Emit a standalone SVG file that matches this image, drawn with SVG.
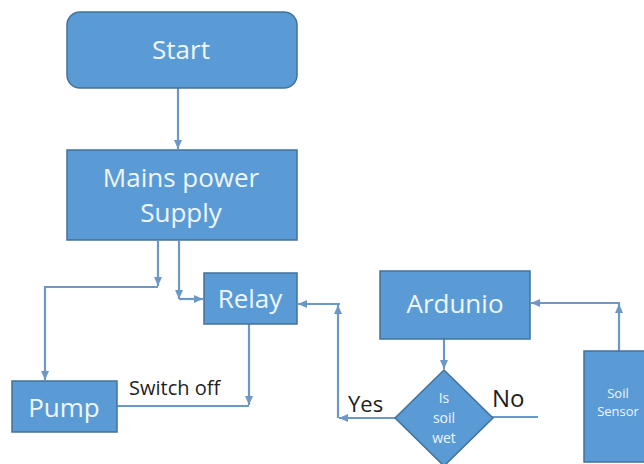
<svg xmlns="http://www.w3.org/2000/svg" width="644" height="464" viewBox="0 0 644 464">
<defs>
<style>
.box{fill:#5b9bd5;stroke:#41719c;stroke-width:1.5}
.lbl{font-family:"Open Sans","Liberation Sans",sans-serif;fill:#eef6ff;text-anchor:middle}
.ext{font-family:"Open Sans","Liberation Sans",sans-serif;fill:#1e1e1e}
.con{fill:none;stroke:#6b98c6;stroke-width:2.2}
</style>
<marker id="ah" markerUnits="userSpaceOnUse" markerWidth="9" markerHeight="8" refX="9" refY="4" orient="auto">
<path d="M0,0 L9,4 L0,8 z" fill="#6b98c6"/>
</marker>
</defs>
<rect width="644" height="464" fill="#ffffff"/>
<g id="connectors">
<path class="con" d="M178,88 V149" marker-end="url(#ah)"/>
<path class="con" d="M158,241 V286" marker-end="url(#ah)"/>
<path class="con" d="M158,287 H45 V380" marker-end="url(#ah)"/>
<path class="con" d="M179,241 V299" marker-end="url(#ah)"/>
<path class="con" d="M179,299 H203" marker-end="url(#ah)"/>
<path class="con" d="M249,324 V405" marker-end="url(#ah)"/>
<path class="con" d="M249,406 H117"/>
<path class="con" d="M395,418 H339" marker-end="url(#ah)"/>
<path class="con" d="M338,418 V305" marker-end="url(#ah)"/>
<path class="con" d="M340,304 H298" marker-end="url(#ah)"/>
<path class="con" d="M444,339 V369" marker-end="url(#ah)"/>
<path class="con" d="M492,417 H538"/>
<path class="con" d="M619,351 V304" marker-end="url(#ah)"/>
<path class="con" d="M620,303 H531" marker-end="url(#ah)"/>
<text class="ext" x="129" y="395" font-size="20">Switch off</text>
<text class="ext" x="348" y="412" font-size="22">Yes</text>
<text class="ext" x="492" y="407" font-size="24">No</text>
</g>
<g id="start">
<rect class="box" x="67" y="12" width="230" height="76" rx="13"/>
<text class="lbl" x="181" y="59" font-size="26">Start</text>
</g>
<g id="mains">
<rect class="box" x="67" y="150" width="230" height="90"/>
<text class="lbl" x="181" y="187" font-size="26">Mains power</text>
<text class="lbl" x="181" y="222" font-size="26">Supply</text>
</g>
<g id="relay">
<rect class="box" x="204" y="273" width="93" height="51"/>
<text class="lbl" x="250" y="308" font-size="26">Relay</text>
</g>
<g id="pump">
<rect class="box" x="12" y="381" width="105" height="51"/>
<text class="lbl" x="64" y="417" font-size="26">Pump</text>
</g>
<g id="ardunio">
<rect class="box" x="380" y="271" width="150" height="68"/>
<text class="lbl" x="455" y="313" font-size="26">Ardunio</text>
</g>
<g id="decision">
<polygon class="box" points="444,370 493,418 444,466 395,418"/>
<text class="lbl" x="444" y="403" font-size="14">Is</text>
<text class="lbl" x="444" y="423" font-size="14">soil</text>
<text class="lbl" x="444" y="443" font-size="14">wet</text>
</g>
<g id="sensor">
<rect class="box" x="584" y="351" width="68" height="111"/>
<text class="lbl" x="618" y="398" font-size="13">Soil</text>
<text class="lbl" x="618" y="416" font-size="13">Sensor</text>
</g>
</svg>
